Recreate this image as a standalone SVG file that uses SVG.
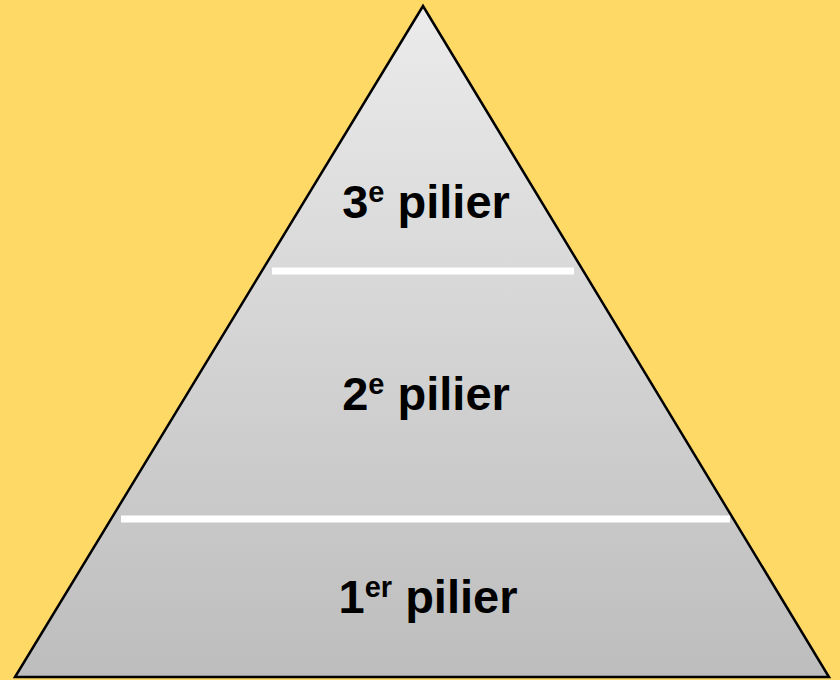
<svg xmlns="http://www.w3.org/2000/svg" width="840" height="680" viewBox="0 0 840 680">
<defs>
<linearGradient id="g" gradientUnits="userSpaceOnUse" x1="0" y1="6" x2="0" y2="677">
<stop offset="0" stop-color="#EBEBEB"/>
<stop offset="1" stop-color="#BDBDBD"/>
</linearGradient>
<style>
.lbl{font-family:"Liberation Sans",Arial,sans-serif;font-weight:bold;font-size:47px;fill:#000;text-anchor:middle}
.sup{font-size:29px}
.sep{stroke:#FFFFFF;stroke-width:7;fill:none}
</style>
</defs>
<rect width="840" height="680" fill="#FFD966"/>
<g id="pyramid">
<polygon points="423,6 15,677 829,677" fill="url(#g)" stroke="#000" stroke-width="2.5" stroke-linejoin="miter"/>
</g>
<g id="separators">
<line class="sep" x1="272" y1="271" x2="574" y2="271"/>
<line class="sep" x1="121" y1="519" x2="730" y2="519"/>
</g>
<g id="tier3">
<text class="lbl" x="426" y="218">3<tspan class="sup" dy="-16">e</tspan><tspan dy="16"> pilier</tspan></text>
</g>
<g id="tier2">
<text class="lbl" x="426" y="410">2<tspan class="sup" dy="-16">e</tspan><tspan dy="16"> pilier</tspan></text>
</g>
<g id="tier1">
<text class="lbl" x="428" y="613">1<tspan class="sup" dy="-16">er</tspan><tspan dy="16"> pilier</tspan></text>
</g>
</svg>
